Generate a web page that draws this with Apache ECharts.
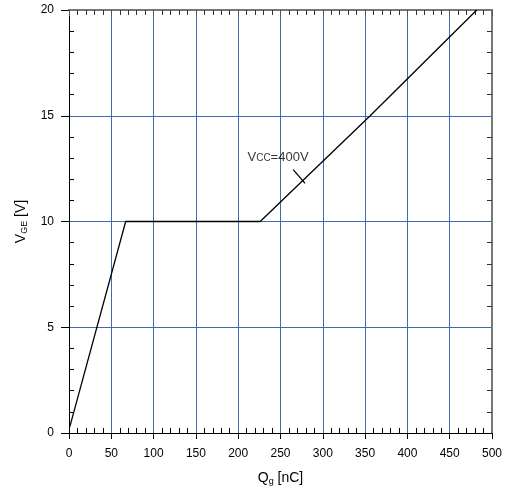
<!DOCTYPE html>
<html>
<head>
<meta charset="utf-8">
<script src="https://cdn.jsdelivr.net/npm/echarts@6/dist/echarts.min.js"></script>
<style>html,body{margin:0;padding:0;background:#fff}#c{width:506px;height:491px}</style>
</head>
<body>
<div id="c"></div>
<script>
// gate charge curve, Vcc = 400V
const qg = [1, 67, 226, 356, 482];
const vge = [0.3, 10, 10, 15, 20];
const leaderX = [265, 279];
const leaderY = [12.45, 11.8];
const noteAt = [211, 13.05];

const font = 'Liberation Sans, Arial, sans-serif';
const gridBlue = '#4468b4';

const chart = echarts.init(document.getElementById('c'));

const box = { left: 69, right: 14, top: 10, bottom: 58, containLabel: false, outerBoundsMode: 'none' };
const baseX = { type: 'value', min: 0, max: 500, interval: 50 };
const baseY = { type: 'value', min: 0, max: 20, interval: 5 };

// axis on its own grid that only draws the inner minor ticks
function minorOnly(base, grid, pos, color) {
  return Object.assign({}, base, {
    gridIndex: grid,
    position: pos,
    axisLine: { show: false, onZero: false },
    axisTick: { show: false, inside: true },
    minorTick: { show: true, splitNumber: 5, length: 5, lineStyle: { color: color } },
    axisLabel: { show: false },
    splitLine: { show: false }
  });
}

const rich = {
  a: { fontSize: 14, fontFamily: font, color: '#000' },
  s: { fontSize: 9, fontFamily: font, color: '#000', verticalAlign: 'bottom', padding: [6, 0, 0, 0] }
};

chart.setOption({
  animation: false,
  grid: [box, box, box],
  xAxis: [
    Object.assign({}, baseX, {
      gridIndex: 0,
      position: 'bottom',
      name: '{a|Q}{s|g}{a| [nC]}',
      nameLocation: 'middle',
      nameGap: 38,
      nameTextStyle: { rich: rich },
      axisLine: { onZero: false, lineStyle: { color: '#000', width: 1 } },
      axisTick: { length: 6, lineStyle: { color: '#000' } },
      axisLabel: { color: '#000', fontSize: 12, fontFamily: font, margin: 15 },
      splitLine: { show: true, lineStyle: { color: gridBlue, width: 1 } }
    }),
    minorOnly(baseX, 1, 'bottom', '#000'),
    Object.assign({}, minorOnly(baseX, 2, 'top', '#333'), {
      axisLine: { show: true, onZero: false, lineStyle: { color: '#777', width: 2 } },
      axisTick: { show: true, inside: true, length: 6, lineStyle: { color: '#555' } }
    })
  ],
  yAxis: [
    Object.assign({}, baseY, {
      gridIndex: 0,
      position: 'left',
      name: '{a|V}{s|GE}{a| [V]}',
      nameLocation: 'middle',
      nameGap: 40,
      nameTextStyle: { rich: rich },
      axisLine: { onZero: false, lineStyle: { color: '#000', width: 1 } },
      axisTick: { length: 8, lineStyle: { color: '#000' } },
      axisLabel: { color: '#000', fontSize: 12, fontFamily: font, margin: 15 },
      splitLine: { show: true, lineStyle: { color: gridBlue, width: 1 } }
    }),
    minorOnly(baseY, 1, 'left', '#000'),
    Object.assign({}, minorOnly(baseY, 2, 'right', '#333'), {
      axisLine: { show: true, onZero: false, lineStyle: { color: '#777', width: 2 } }
    })
  ],
  series: [
    {
      type: 'line',
      data: qg.map((x, i) => [x, vge[i]]),
      symbol: 'none',
      lineStyle: { color: '#000', width: 1.3 },
      z: 5
    },
    {
      type: 'line',
      data: leaderX.map((x, i) => [x, leaderY[i]]),
      symbol: 'none',
      lineStyle: { color: '#000', width: 1.3 }
    },
    {
      type: 'scatter',
      data: [noteAt],
      symbolSize: 0,
      label: {
        show: true,
        position: 'right',
        distance: 0,
        formatter: '{a|V}{s|CC}{a|=400V}',
        rich: {
          a: { fontSize: 13, fontFamily: font, color: '#000' },
          s: { fontSize: 10, fontFamily: font, color: '#000', verticalAlign: 'bottom', padding: [3, 0, 0, 0] }
        }
      }
    }
  ]
});
</script>
</body>
</html>
